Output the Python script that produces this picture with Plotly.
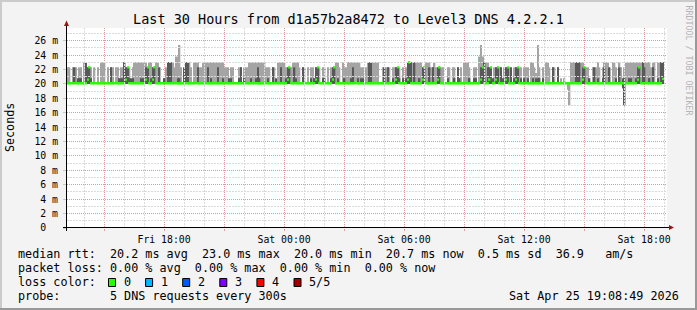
import plotly.graph_objects as go
import pandas as pd
import math

# ---------------- data (milliseconds) ----------------
N = 20.0   # no smoke above the median line
L = 20.8   # short smoke stub
A = 22.3   # typical tall smoke
B = 23.0   # tallest regular smoke

start = "2026-04-24 13:08:49"
end = "2026-04-25 19:08:49"
step_s = 300

# highest of 5 pings (light smoke top), one value per 5-minute step
p5 = [
    A, A, N, A, A, A, N, A, A, N, B, B,
    A, A, A, N, A, N, A, N, B, B, B, N,
    A, N, A, A, N, A, A, N, A, A, B, A,
    A, A, N, A, B, B, B, B, B, B, B, B,
    A, B, B, A, A, B, B, A, N, N, L, A,
    B, B, B, B, A, 23.8, 23.8, 25.4, A, N, A, B,
    B, B, A, N, B, B, B, A, A, B, B, B,
    B, B, B, B, B, B, B, B, B, B, A, A,
    A, N, A, A, N, N, N, A, A, N, A, A,
    A, B, B, B, B, B, B, B, B, B, B, A,
    A, A, N, A, A, N, B, B, B, B, B, A,
    A, A, A, B, B, B, B, A, N, A, A, N,
    A, N, A, A, N, A, A, A, N, A, A, N,
    A, N, A, A, A, B, B, A, N, B, A, A,
    B, B, B, B, B, B, B, B, A, A, N, A,
    B, B, B, B, B, B, B, N, N, A, N, A,
    A, A, N, A, A, A, A, A, N, A, N, A,
    B, B, B, B, B, B, B, B, B, A, A, B,
    B, B, A, A, B, A, A, A, A, A, N, N,
    A, A, N, A, A, N, A, N, A, N, B, B,
    B, A, N, N, A, A, N, 23.8, 25.4, 23.8, B, B,
    B, A, A, N, A, A, A, A, A, N, A, A,
    A, A, N, N, A, A, A, A, A, N, A, A,
    A, N, B, B, A, 21.5, 25.4, A, N, A, N, B,
    B, A, N, A, A, N, A, N, L, N, L, N,
    N, N, B, B, B, B, B, B, B, B, A, A,
    A, N, N, A, A, A, B, A, N, A, B, B,
    B, A, N, B, B, A, N, B, A, N, A, B,
    B, B, B, B, B, B, B, B, B, B, B, B,
    B, B, A, B, B, N, B, B, B, B, None, None,
]

# 4th ping (dark smoke top)
p4 = [
    N, N, N, N, A, N, L, L, L, N, N, B,
    A, A, L, N, N, N, N, N, N, N, N, N,
    N, N, A, N, N, N, N, L, L, L, B, A,
    A, L, L, L, N, N, N, N, L, L, N, A,
    A, N, L, A, A, N, N, A, N, N, L, N,
    B, B, B, N, N, N, L, L, N, N, A, B,
    B, N, N, N, N, N, A, N, N, N, N, N,
    A, N, L, N, N, N, A, N, N, L, N, N,
    N, L, L, N, N, N, N, L, A, N, L, N,
    N, N, L, N, N, L, A, L, N, N, N, N,
    L, N, N, A, N, L, N, N, A, N, N, L,
    A, A, N, N, A, L, N, N, N, A, N, N,
    N, N, L, N, L, A, A, N, N, L, L, N,
    N, N, L, A, A, N, L, N, N, N, L, N,
    N, N, L, A, N, N, L, N, L, L, N, N,
    N, B, B, N, N, N, N, N, N, N, A, N,
    A, N, N, L, N, A, A, L, N, L, N, L,
    B, B, B, N, B, N, N, L, N, A, A, N,
    N, A, N, A, N, N, A, A, N, N, N, N,
    L, N, N, N, L, N, A, L, N, N, N, N,
    N, L, N, N, L, L, N, N, A, A, B, N,
    A, A, A, L, N, A, A, N, A, L, N, A,
    A, N, A, N, L, A, A, N, L, N, L, N,
    L, N, N, L, N, L, L, L, N, L, N, N,
    N, N, N, A, N, N, A, N, N, N, N, N,
    N, N, N, N, N, B, B, B, N, A, A, N,
    N, L, N, N, A, N, L, N, N, L, A, N,
    N, A, N, N, N, L, N, A, N, L, L, N,
    N, L, L, N, N, L, A, A, N, B, A, N,
    N, L, N, A, N, N, L, N, B, B, None, None,
]

floor_ms = 20.0          # lowest ping, almost always
median_base = 20.1       # usual median rtt
median_idx = [12, 13, 35, 36, 47, 48, 51, 52, 132, 133, 149, 150, 159, 160,
              197, 198, 204, 205, 213, 214, 222, 223, 248, 249, 253, 254,
              257, 258, 263, 264, 269, 270, 309, 310, 342, 343, 357]
median_val = [20.6, 22.3, 20.6, 22.3, 20.6, 22.3, 20.6, 22.3, 20.6, 22.3, 20.6, 22.3, 20.6, 22.3,
              20.6, 22.3, 20.6, 23.0, 20.6, 22.3, 20.6, 22.3, 20.6, 22.3, 20.6, 22.3,
              20.6, 22.3, 20.6, 22.3, 20.6, 22.3, 20.6, 22.3, 20.6, 22.3, 20.7]
low_idx = [300, 301, 333, 334]
low_p1 = [19.2, 17.0, 19.4, 17.0]
low_p2 = [20.0, 20.0, 19.4, 17.0]

y_ticks = list(range(0, 27, 2))
y_ticktext = ["0\u00a0\u00a0"] + [f"{v} m" for v in y_ticks[1:]]
y_minor = list(range(1, 28, 2))
x_ticks = ["2026-04-24 15:00", "2026-04-24 18:00", "2026-04-24 21:00", "2026-04-25 00:00",
           "2026-04-25 03:00", "2026-04-25 06:00", "2026-04-25 09:00", "2026-04-25 12:00",
           "2026-04-25 15:00", "2026-04-25 18:00"]
x_ticktext = ["", "Fri 18:00", "", "Sat 00:00", "", "Sat 06:00", "", "Sat 12:00", "", "Sat 18:00"]
x_minor = ["2026-04-24 14:00", "2026-04-24 16:00", "2026-04-24 17:00", "2026-04-24 19:00",
           "2026-04-24 20:00", "2026-04-24 22:00", "2026-04-24 23:00", "2026-04-25 01:00",
           "2026-04-25 02:00", "2026-04-25 04:00", "2026-04-25 05:00", "2026-04-25 07:00",
           "2026-04-25 08:00", "2026-04-25 10:00", "2026-04-25 11:00", "2026-04-25 13:00",
           "2026-04-25 14:00", "2026-04-25 16:00", "2026-04-25 17:00", "2026-04-25 19:00"]

loss_names = ["0", "1", "2", "3", "4", "5/5"]
loss_colors = ["#26ff00", "#00b8ff", "#0059ff", "#7e00ff", "#ff0000", "#a10000"]

title = "Last 30 Hours from d1a57b2a8472 to Level3 DNS 4.2.2.1"
legend_lines = [
    "median rtt:  20.2 ms avg  23.0 ms max  20.0 ms min  20.7 ms now  0.5 ms sd  36.9   am/s",
    "packet loss: 0.00 % avg  0.00 % max  0.00 % min  0.00 % now",
    "loss color:",
    "probe:       5 DNS requests every 300s",
]
stamp = "Sat Apr 25 19:08:49 2026"

# ---------------- build series ----------------
n = len(p5)
t0 = pd.Timestamp(start)
t1 = pd.Timestamp(end)
xs = [t0 + pd.Timedelta(seconds=step_s * (i + 0.5)) for i in range(n)]
p1 = [floor_ms] * n
p2 = [floor_ms] * n
for k, i in enumerate(low_idx):
    p1[i] = low_p1[k]
    p2[i] = low_p2[k]
med = [median_base if p5[i] is not None else None for i in range(n)]
for k, i in enumerate(median_idx):
    med[i] = median_val[k]

valid = [i for i in range(n) if p5[i] is not None]
bw = step_s * 1000

fig = go.Figure()
fig.add_bar(x=[xs[i] for i in valid], y=[p5[i] - p1[i] for i in valid],
            base=[p1[i] for i in valid], width=bw, marker_color="#a4a4a4",
            marker_line_width=0, hoverinfo="skip")
fig.add_bar(x=[xs[i] for i in valid], y=[p4[i] - p2[i] for i in valid],
            base=[p2[i] for i in valid], width=bw, marker_color="#585858",
            marker_line_width=0, hoverinfo="skip")
mh = 0.33
fig.add_bar(x=[xs[i] for i in valid], y=[mh] * len(valid),
            base=[med[i] - mh / 2 for i in valid], width=bw, marker_color=loss_colors[0],
            marker_line_width=0, hoverinfo="skip")

# ---------------- layout ----------------
W, H = 697, 310
ML, MR, MT, MB = 67, 30, 28, 82
PW, PH = W - ML - MR, H - MT - MB
YTOP = PH / 7.204


def px(x):
    return (x - ML) / PW


def py(y):
    return (H - MB - y) / PH


mono = "DejaVu Sans Mono"
grid_major = "#dc9a9a"
grid_minor = "#dadada"

fig.update_layout(
    width=W, height=H, margin=dict(l=ML, r=MR, t=MT, b=MB, pad=0),
    paper_bgcolor="#f3f3f3", plot_bgcolor="#ffffff",
    barmode="overlay", showlegend=False,
    font=dict(family=mono, size=10, color="#000000"),
)
fig.update_xaxes(
    type="date", range=[start, end], tickmode="array", tickvals=x_ticks, ticktext=x_ticktext,
    showgrid=True, gridcolor=grid_major, griddash="1px,1px", gridwidth=1,
    ticks="outside", ticklen=2, tickcolor=grid_major, tickfont=dict(size=9.8),
    showline=False, zeroline=False, fixedrange=True,
)
fig.update_yaxes(
    range=[0, YTOP], tickmode="array", tickvals=y_ticks, ticktext=y_ticktext,
    showgrid=True, gridcolor=grid_major, griddash="1px,1px", gridwidth=1,
    ticks="outside", ticklen=3, tickcolor="#c8c8c8", tickfont=dict(size=9.8),
    ticklabelstandoff=3,
    showline=False, zeroline=False, fixedrange=True,
)

shapes = []
# minor grid (1 hour / 1 ms), light grey; positions from the axis scale, snapped to pixel centres
span_s = (t1 - t0).total_seconds()
for v in x_minor:
    xp = ML + (pd.Timestamp(v) - t0).total_seconds() / span_s * PW
    xp = math.floor(xp) + 0.5
    shapes.append(dict(type="line", xref="paper", yref="paper", x0=px(xp), x1=px(xp),
                       y0=py(H - MB), y1=py(MT), layer="above",
                       line=dict(color=grid_minor, width=1, dash="2px,1px")))
for v in y_minor:
    yp = H - MB - v / YTOP * PH
    yp = math.floor(yp) + 0.5
    shapes.append(dict(type="line", xref="paper", yref="paper", x0=px(ML), x1=px(W - MR),
                       y0=py(yp), y1=py(yp), layer="above",
                       line=dict(color=grid_minor, width=1, dash="2px,1px")))
# 3D border
shapes.append(dict(type="line", xref="paper", yref="paper", x0=px(0), x1=px(W), y0=py(1), y1=py(1),
                   line=dict(color="#cbcbcb", width=2)))
shapes.append(dict(type="line", xref="paper", yref="paper", x0=px(1), x1=px(1), y0=py(0), y1=py(H),
                   line=dict(color="#cbcbcb", width=2)))
shapes.append(dict(type="line", xref="paper", yref="paper", x0=px(0), x1=px(W), y0=py(H - 1), y1=py(H - 1),
                   line=dict(color="#999999", width=2)))
shapes.append(dict(type="line", xref="paper", yref="paper", x0=px(W - 1), x1=px(W - 1), y0=py(0), y1=py(H),
                   line=dict(color="#999999", width=2)))
# axes
shapes.append(dict(type="line", xref="paper", yref="paper", x0=px(63), x1=px(670), y0=py(227.5), y1=py(227.5),
                   line=dict(color="#000000", width=1)))
shapes.append(dict(type="line", xref="paper", yref="paper", x0=px(66.5), x1=px(66.5), y0=py(231), y1=py(24),
                   line=dict(color="#000000", width=1)))
# arrows
shapes.append(dict(type="path", xref="paper", yref="paper",
                   path=f"M {px(669)} {py(225)} L {px(674)} {py(227.5)} L {px(669)} {py(230)} Z",
                   fillcolor="#a01010", line=dict(width=0)))
shapes.append(dict(type="path", xref="paper", yref="paper",
                   path=f"M {px(64)} {py(26)} L {px(66.5)} {py(20.5)} L {px(69)} {py(26)} Z",
                   fillcolor="#a01010", line=dict(width=0)))

annotations = []
annotations.append(dict(text=title, xref="paper", yref="paper", x=px(348), y=py(19),
                        xanchor="center", yanchor="middle", showarrow=False,
                        font=dict(family=mono, size=13.5, color="#000000")))
annotations.append(dict(text="Seconds", xref="paper", yref="paper", x=px(10), y=py(128),
                        xanchor="center", yanchor="middle", showarrow=False, textangle=-90,
                        font=dict(family=mono, size=11.7, color="#000000")))
annotations.append(dict(text="RRDTOOL / TOBI OETIKER", xref="paper", yref="paper", x=px(688.5), y=py(60),
                        xanchor="center", yanchor="middle", showarrow=False, textangle=90,
                        font=dict(family=mono, size=8.3, color="#b4b4b4")))
line_y = [254.3, 268.3, 282.3, 296.0]
for txt, yy in zip(legend_lines, line_y):
    annotations.append(dict(text=txt.replace(" ", "\u00a0"), xref="paper", yref="paper",
                            x=px(16), y=py(yy), xanchor="left", yanchor="middle", showarrow=False,
                            font=dict(family=mono, size=11.75, color="#000000")))
annotations.append(dict(text=stamp.replace(" ", "\u00a0"), xref="paper", yref="paper",
                        x=px(680.5), y=py(296.0), xanchor="right", yanchor="middle", showarrow=False,
                        font=dict(family=mono, size=11.75, color="#000000")))
for k, (nm, col) in enumerate(zip(loss_names, loss_colors)):
    x0 = 108.5 + 37.1 * k
    shapes.append(dict(type="rect", xref="paper", yref="paper", x0=px(x0), x1=px(x0 + 7),
                       y0=py(278.5), y1=py(286.5), fillcolor=col, line=dict(color="#000000", width=1)))
    annotations.append(dict(text=nm, xref="paper", yref="paper", x=px(x0 + 13), y=py(282.3),
                            xanchor="left", yanchor="middle", showarrow=False,
                            font=dict(family=mono, size=11.75, color="#000000")))

fig.update_layout(shapes=shapes, annotations=annotations)
fig.write_html("out.html")
